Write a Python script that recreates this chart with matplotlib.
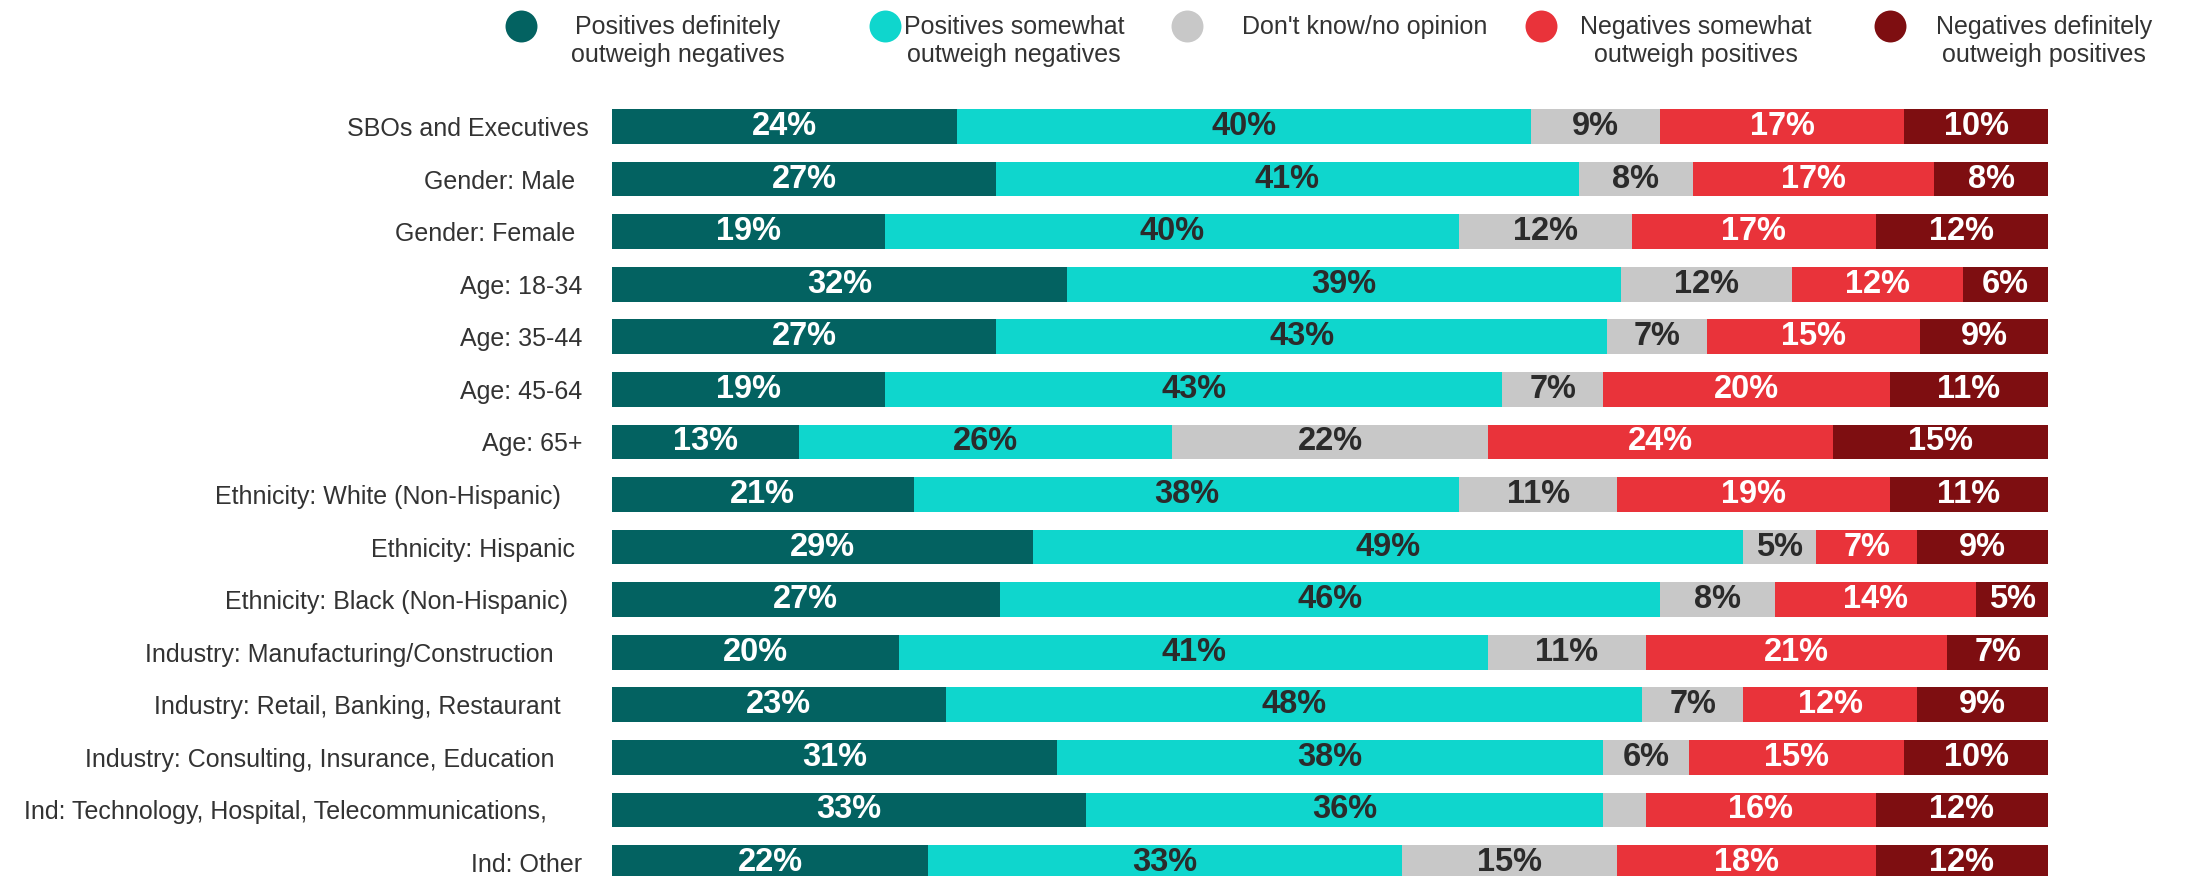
import numpy as np
import matplotlib
matplotlib.use("Agg")
import matplotlib.pyplot as plt
from matplotlib.lines import Line2D

plt.rcParams["font.family"] = ["Liberation Sans", "DejaVu Sans"]

# Survey groups (top to bottom); trailing spaces keep the original label spacing
categories = [
    "SBOs and Executives",
    "Gender: Male  ",
    "Gender: Female  ",
    "Age: 18-34 ",
    "Age: 35-44 ",
    "Age: 45-64 ",
    "Age: 65+ ",
    "Ethnicity: White (Non-Hispanic)    ",
    "Ethnicity: Hispanic  ",
    "Ethnicity: Black (Non-Hispanic)   ",
    "Industry: Manufacturing/Construction     ",
    "Industry: Retail, Banking, Restaurant    ",
    "Industry: Consulting, Insurance, Education     ",
    "Ind: Technology, Hospital, Telecommunications,      ",
    "Ind: Other ",
]

series_names = [
    "Positives definitely\noutweigh negatives",
    "Positives somewhat\noutweigh negatives",
    "Don't know/no opinion",
    "Negatives somewhat\noutweigh positives",
    "Negatives definitely\noutweigh positives",
]

pos_definitely = [24, 27, 19, 32, 27, 19, 13, 21, 29, 27, 20, 23, 31, 33, 22]
pos_somewhat = [40, 41, 40, 39, 43, 43, 26, 38, 49, 46, 41, 48, 38, 36, 33]
dont_know = [9, 8, 12, 12, 7, 7, 22, 11, 5, 8, 11, 7, 6, 3, 15]
neg_somewhat = [17, 17, 17, 12, 15, 20, 24, 19, 7, 14, 21, 12, 15, 16, 18]
neg_definitely = [10, 8, 12, 6, 9, 11, 15, 11, 9, 5, 7, 9, 10, 12, 12]

colors = ["#036261", "#0FD6CD", "#C8C8C8", "#E9333A", "#7E0E11"]
label_colors = ["white", "#2B2B2B", "#2B2B2B", "white", "white"]
text_color = "#333333"

W, H = 2192, 876
fig = plt.figure(figsize=(W / 100, H / 100), dpi=100)
ax = fig.add_axes([612 / W, -0.0146, 1436 / W, 0.9002])

data = np.array([pos_definitely, pos_somewhat, dont_know, neg_somewhat, neg_definitely], dtype=float)
shares = data / data.sum(axis=0) * 100  # each row drawn as a 100% stacked bar
y = np.arange(len(categories))

left = np.zeros(len(categories))
for k in range(len(series_names)):
    ax.barh(y, shares[k], left=left, height=0.66, color=colors[k], linewidth=0)
    for yi in range(len(categories)):
        v = data[k, yi]
        if v >= 4:
            ax.text(left[yi] + shares[k, yi] / 2, yi, f"{v:.0f}%", ha="center", va="center",
                    fontsize=23.5, fontweight="bold", color=label_colors[k])
    left += shares[k]

ax.set_xlim(0, 100)
ax.set_ylim(len(categories) - 0.5, -0.5)
ax.set_yticks(y, categories)
ax.tick_params(axis="y", length=0, pad=16.5, labelsize=18, labelcolor=text_color)
ax.set_xticks([])
for s in ax.spines.values():
    s.set_visible(False)

# Legend row across the top
marker_x = [521, 885, 1187, 1541, 1890]
text_x = [678, 1014, 1365, 1696, 2044]
for k, name in enumerate(series_names):
    fig.add_artist(Line2D([marker_x[k] / W], [1 - 25.7 / H], marker="o", markersize=23,
                          markerfacecolor=colors[k], markeredgewidth=0, linestyle="none",
                          transform=fig.transFigure))
    fig.text(text_x[k] / W, 1 - 15 / H, name, ha="center", va="top", multialignment="center",
             fontsize=18, color=text_color, linespacing=1.2)

fig.savefig("out.png", dpi=100, facecolor="white")
